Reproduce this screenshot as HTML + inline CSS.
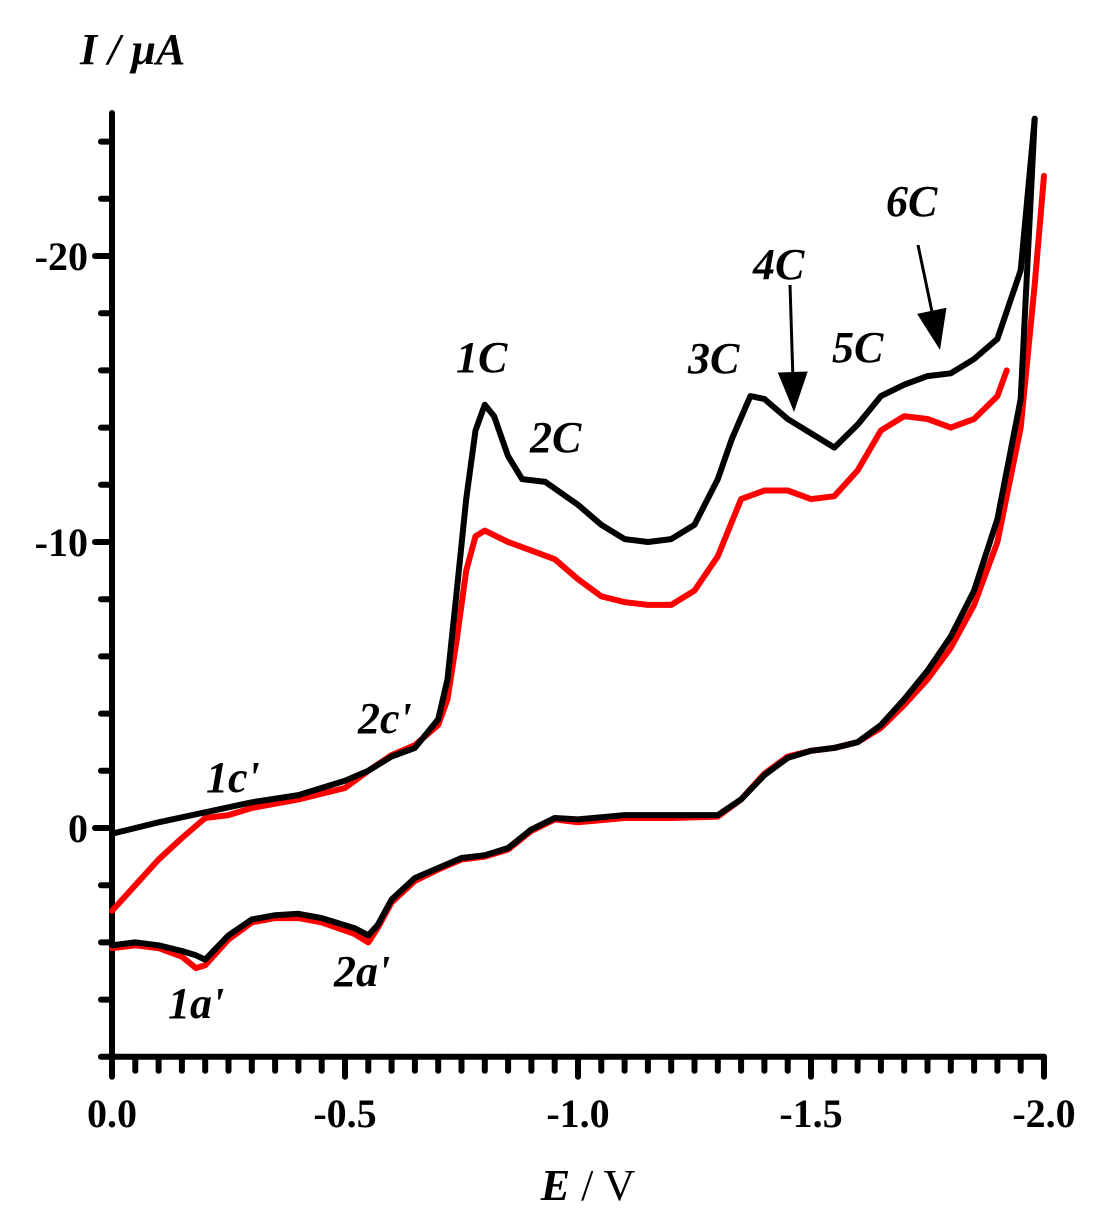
<!DOCTYPE html>
<html><head><meta charset="utf-8"><style>
html,body{margin:0;padding:0;background:#fff;}
svg{display:block;font-family:"Liberation Serif",serif;}
</style></head><body>
<svg id="chart" width="1100" height="1212" viewBox="0 0 1100 1212">
<g id="axes"></g>
<g id="series"></g>
<g id="labels"></g>
</svg>
<script>
const xTicksMajor=[0,-0.5,-1.0,-1.5,-2.0];
const xTickLabels=["0.0","-0.5","-1.0","-1.5","-2.0"];
const yTicksMajor=[0,-10,-20];
const yTickLabels=["0","-10","-20"];
const blackFwdE=[0,-0.1,-0.2,-0.3,-0.4,-0.5,-0.55,-0.6,-0.65,-0.7,-0.72,-0.74,-0.76,-0.78,-0.8,-0.82,-0.85,-0.88,-0.93,-1.0,-1.05,-1.1,-1.15,-1.2,-1.25,-1.3,-1.33,-1.37,-1.4,-1.45,-1.5,-1.55,-1.6,-1.65,-1.7,-1.75,-1.8,-1.85,-1.9,-1.95,-1.98];
const blackFwdI=[0.2,-0.2,-0.55,-0.9,-1.15,-1.65,-2.0,-2.5,-2.8,-3.8,-5.2,-8.3,-11.5,-13.9,-14.8,-14.4,-13.0,-12.2,-12.1,-11.3,-10.6,-10.1,-10.0,-10.1,-10.6,-12.2,-13.6,-15.1,-15.0,-14.3,-13.8,-13.3,-14.1,-15.1,-15.5,-15.8,-15.9,-16.4,-17.1,-19.5,-24.8];
const blackRevE=[-1.98,-1.95,-1.9,-1.85,-1.8,-1.75,-1.7,-1.65,-1.6,-1.55,-1.5,-1.45,-1.4,-1.35,-1.3,-1.2,-1.1,-1.0,-0.95,-0.9,-0.85,-0.8,-0.75,-0.7,-0.65,-0.6,-0.57,-0.55,-0.52,-0.45,-0.4,-0.35,-0.3,-0.25,-0.2,-0.18,-0.15,-0.1,-0.05,0];
const blackRevI=[-24.8,-15.0,-10.8,-8.3,-6.7,-5.5,-4.5,-3.6,-3.0,-2.8,-2.7,-2.45,-1.85,-1.0,-0.45,-0.45,-0.45,-0.3,-0.35,0.05,0.7,0.95,1.05,1.4,1.75,2.5,3.4,3.75,3.5,3.15,3.0,3.05,3.2,3.75,4.6,4.45,4.3,4.1,4.0,4.1];
const redFwdE=[0,-0.05,-0.1,-0.15,-0.2,-0.25,-0.3,-0.4,-0.5,-0.55,-0.6,-0.65,-0.7,-0.72,-0.74,-0.76,-0.78,-0.8,-0.85,-0.9,-0.95,-1.0,-1.05,-1.1,-1.15,-1.2,-1.25,-1.3,-1.35,-1.4,-1.45,-1.5,-1.55,-1.6,-1.65,-1.7,-1.75,-1.8,-1.85,-1.9,-1.92];
const redFwdI=[2.9,2.0,1.1,0.35,-0.35,-0.45,-0.7,-1.0,-1.4,-2.0,-2.55,-2.9,-3.6,-4.5,-6.6,-9.0,-10.2,-10.4,-10.0,-9.7,-9.4,-8.7,-8.1,-7.9,-7.8,-7.8,-8.3,-9.5,-11.5,-11.8,-11.8,-11.5,-11.6,-12.5,-13.9,-14.4,-14.3,-14.0,-14.3,-15.1,-16.0];
const redRevE=[-2.0,-1.98,-1.95,-1.9,-1.85,-1.8,-1.75,-1.7,-1.65,-1.6,-1.55,-1.5,-1.45,-1.4,-1.35,-1.3,-1.2,-1.1,-1.0,-0.95,-0.9,-0.85,-0.8,-0.75,-0.7,-0.65,-0.6,-0.57,-0.55,-0.52,-0.45,-0.4,-0.35,-0.3,-0.25,-0.2,-0.18,-0.15,-0.1,-0.05,0];
const redRevI=[-22.8,-19.0,-14.0,-10.0,-7.8,-6.3,-5.2,-4.3,-3.5,-3.0,-2.8,-2.7,-2.5,-1.9,-1.0,-0.4,-0.35,-0.35,-0.2,-0.3,0.1,0.75,1.0,1.1,1.45,1.85,2.6,3.5,4.0,3.7,3.3,3.15,3.15,3.3,3.9,4.8,4.9,4.5,4.2,4.1,4.2];

const NS="http://www.w3.org/2000/svg";
function X(E){return 112-466*E;}
function Y(I){return 828+28.6*I;}
function mk(tag,attrs,parent){const e=document.createElementNS(NS,tag);for(const k in attrs)e.setAttribute(k,attrs[k]);parent.appendChild(e);return e;}
const axes=document.getElementById('axes'),series=document.getElementById('series'),labels=document.getElementById('labels');

let yl=mk('line',{x1:112,y1:Y(-25),x2:112,y2:Y(8),stroke:'#000','stroke-width':6,'stroke-linecap':'round'},axes);


let xl=mk('line',{x1:112,y1:Y(8),x2:X(-2.0),y2:Y(8),stroke:'#000','stroke-width':6,'stroke-linecap':'round'},axes);


for(let v=-24;v<=8;v+=2){
  const major=(v%10===0);
  const t=mk('line',{x1:major?95:101,y1:Y(v),x2:112,y2:Y(v),stroke:'#000','stroke-width':6,'stroke-linecap':'round'},axes);
  
  
}
for(let i=0;i<=40;i++){
  const E=-i*0.05;const major=(i%10===0);
  const t=mk('line',{x1:X(E),y1:Y(8),x2:X(E),y2:major?Y(8)+20:Y(8)+14,stroke:'#000','stroke-width':6,'stroke-linecap':'round'},axes);
  
  
}
xTicksMajor.forEach((E,i)=>{
  const t=mk('text',{x:X(E),y:1127,'font-size':40,'font-weight':'bold','text-anchor':'middle'},axes);
  t.textContent=xTickLabels[i];
  
  
});
yTicksMajor.forEach((v,i)=>{
  const t=mk('text',{x:88,y:Y(v)+14,'font-size':40,'font-weight':'bold','text-anchor':'end'},axes);
  t.textContent=yTickLabels[i];
  
  
});
function line(Es,Is,color,name){
  const d=Es.map((E,i)=>(i?'L':'M')+X(E).toFixed(1)+','+Y(Is[i]).toFixed(1)).join(' ');
  const p=mk('path',{d:d,fill:'none',stroke:color,'stroke-width':6,'stroke-linejoin':'round','stroke-linecap':'round'},series);
  
  
}
line(redFwdE,redFwdI,'#ff0000','red-forward-scan');
line(redRevE,redRevI,'#ff0000','red-reverse-scan');
line(blackFwdE,blackFwdI,'#000','black-forward-scan');
line(blackRevE,blackRevI,'#000','black-reverse-scan');

const ann=[["1C",456,372],["2C",530,452],["3C",688,373],["4C",753,279],["5C",832,362],["6C",886,216],["1c'",206,792],["2c'",358,733],["1a'",168,1018],["2a'",334,986]];
ann.forEach(a=>{
  const t=mk('text',{x:a[1],y:a[2],'font-size':44,'font-weight':'bold','font-style':'italic'},labels);
  t.textContent=a[0];
  
  
});
function arrow(x1,y1,x2,y2,name){
  const g=mk('g',{},labels);
  
  
  const dx=x2-x1,dy=y2-y1,L=Math.hypot(dx,dy),ux=dx/L,uy=dy/L,h=40,w=15;
  const bx=x2-ux*h,by=y2-uy*h;
  mk('line',{x1:x1,y1:y1,x2:bx,y2:by,stroke:'#000','stroke-width':3},g);
  mk('polygon',{points:`${x2},${y2} ${bx-uy*w},${by+ux*w} ${bx+uy*w},${by-ux*w}`,fill:'#000'},g);
}
arrow(790,285,794,412,'arrow-4c');
arrow(918,245,940,350,'arrow-6c');

const yt=mk('text',{x:80,y:64,'font-size':44,'font-weight':'bold','font-style':'italic'},labels);
yt.textContent='I / μA';


const xt=mk('text',{x:588,y:1200,'font-size':44,'text-anchor':'middle'},labels);
xt.innerHTML='<tspan font-weight="bold" font-style="italic">E</tspan> / V';


</script>
</body></html>
